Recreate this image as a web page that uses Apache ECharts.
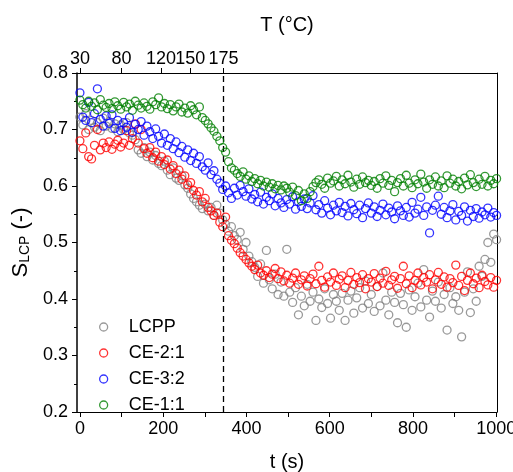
<!DOCTYPE html>
<html><head><meta charset="utf-8">
<script src="https://cdn.jsdelivr.net/npm/echarts@6/dist/echarts.min.js"></script>
<style>html,body{margin:0;padding:0;background:#fff}#c{width:513px;height:472px}</style>
</head><body><div id="c"></div>
<script>
const seriesNames = ['LCPP', 'CE-2:1', 'CE-3:2', 'CE-1:1'];
const seriesColors = ['#808080', '#ff0000', '#0000ff', '#008000'];

const times = [0,7,14,21,28,35,42,49,56,63,
70,77,84,91,98,105,112,119,126,133,
140,147,154,161,168,175,182,189,196,203,
210,217,224,231,238,245,252,259,266,273,
280,287,294,301,308,315,322,329,336,343,
350,357,364,371,378,385,392,399,406,413,
420,427,434,441,448,455,462,469,476,483,
490,497,504,511,518,525,532,539,546,553,
560,567,574,581,588,595,602,609,616,623,
630,637,644,651,658,665,672,679,686,693,
700,707,714,721,728,735,742,749,756,763,
770,777,784,791,798,805,812,819,826,833,
840,847,854,861,868,875,882,889,896,903,
910,917,924,931,938,945,952,959,966,973,
980,987,994,1001];

const lcpp = [0.722,0.708,0.728,0.700,0.716,0.704,0.712,0.698,0.720,0.706,
0.714,0.702,0.710,0.696,0.708,0.700,0.712,0.694,0.690,0.682,
0.664,0.658,0.668,0.652,0.660,0.646,0.654,0.640,0.636,0.644,
0.628,0.620,0.632,0.614,0.610,0.618,0.602,0.596,0.586,0.578,
0.572,0.566,0.560,0.568,0.556,0.562,0.548,0.566,0.552,0.540,
0.532,0.520,0.528,0.512,0.505,0.518,0.488,0.500,0.476,0.466,
0.456,0.440,0.462,0.428,0.486,0.434,0.418,0.444,0.408,0.430,
0.405,0.488,0.412,0.394,0.420,0.372,0.405,0.388,0.426,0.396,
0.412,0.362,0.400,0.385,0.418,0.392,0.366,0.408,0.396,0.380,
0.410,0.362,0.398,0.414,0.375,0.402,0.420,0.384,0.432,0.392,
0.408,0.378,0.422,0.388,0.446,0.398,0.372,0.412,0.394,0.358,
0.410,0.390,0.350,0.416,0.380,0.404,0.428,0.386,0.452,0.398,
0.368,0.414,0.396,0.430,0.384,0.408,0.345,0.420,0.392,0.404,
0.380,0.333,0.412,0.448,0.376,0.418,0.396,0.458,0.440,0.470,
0.500,0.465,0.515,0.505];

const ce21 = [0.680,0.666,0.694,0.652,0.648,0.672,0.700,0.664,0.676,0.668,
0.678,0.665,0.674,0.681,0.669,0.676,0.698,0.672,0.684,0.710,
0.676,0.700,0.666,0.658,0.668,0.650,0.660,0.644,0.652,0.638,
0.646,0.630,0.636,0.622,0.628,0.612,0.618,0.602,0.606,0.592,
0.584,0.590,0.572,0.578,0.562,0.556,0.548,0.552,0.536,0.528,
0.545,0.512,0.504,0.498,0.490,0.482,0.476,0.470,0.464,0.458,
0.452,0.460,0.446,0.442,0.450,0.438,0.444,0.454,0.436,0.448,
0.432,0.442,0.428,0.437,0.446,0.426,0.434,0.441,0.423,0.436,
0.444,0.427,0.458,0.433,0.421,0.439,0.430,0.446,0.424,0.435,
0.441,0.420,0.433,0.447,0.426,0.438,0.429,0.443,0.418,0.436,
0.430,0.445,0.422,0.437,0.428,0.449,0.424,0.434,0.440,0.419,
0.436,0.458,0.427,0.441,0.420,0.433,0.446,0.425,0.438,0.430,
0.443,0.418,0.434,0.447,0.426,0.439,0.421,0.436,0.429,0.460,
0.424,0.440,0.415,0.433,0.446,0.427,0.437,0.420,0.442,0.431,
0.425,0.438,0.421,0.433];

const ce32 = [0.765,0.722,0.716,0.748,0.712,0.728,0.772,0.718,0.706,0.724,
0.711,0.726,0.702,0.716,0.698,0.712,0.704,0.721,0.695,0.709,
0.700,0.714,0.690,0.706,0.696,0.684,0.701,0.688,0.676,0.692,
0.672,0.684,0.666,0.678,0.659,0.670,0.651,0.664,0.645,0.658,
0.640,0.652,0.634,0.628,0.641,0.620,0.627,0.612,0.605,0.594,
0.600,0.588,0.578,0.596,0.584,0.601,0.590,0.582,0.595,0.577,
0.585,0.572,0.589,0.568,0.580,0.574,0.586,0.565,0.578,0.570,
0.562,0.576,0.568,0.581,0.559,0.572,0.564,0.577,0.560,0.570,
0.583,0.558,0.567,0.552,0.574,0.561,0.549,0.566,0.556,0.571,
0.553,0.564,0.547,0.569,0.558,0.551,0.566,0.544,0.560,0.570,
0.552,0.563,0.546,0.557,0.568,0.549,0.561,0.554,0.542,0.565,
0.556,0.548,0.562,0.545,0.571,0.552,0.559,0.580,0.548,0.563,
0.517,0.557,0.566,0.582,0.550,0.562,0.544,0.556,0.567,0.540,
0.555,0.548,0.563,0.538,0.557,0.546,0.560,0.543,0.554,0.549,
0.561,0.545,0.553,0.548];

const ce11 = [0.752,0.744,0.738,0.750,0.741,0.747,0.735,0.753,0.743,0.739,
0.746,0.737,0.749,0.742,0.736,0.748,0.740,0.745,0.734,0.750,
0.743,0.738,0.747,0.741,0.736,0.749,0.744,0.756,0.740,0.746,
0.737,0.744,0.733,0.740,0.745,0.731,0.738,0.729,0.742,0.735,
0.726,0.740,0.721,0.716,0.710,0.703,0.697,0.688,0.680,0.668,
0.660,0.643,0.632,0.628,0.622,0.617,0.625,0.612,0.618,0.608,
0.613,0.604,0.610,0.600,0.607,0.598,0.604,0.595,0.601,0.593,
0.600,0.596,0.589,0.598,0.583,0.592,0.574,0.586,0.578,0.590,
0.599,0.606,0.611,0.603,0.596,0.614,0.605,0.609,0.617,0.600,
0.611,0.604,0.619,0.607,0.598,0.612,0.603,0.616,0.606,0.610,
0.601,0.608,0.596,0.613,0.605,0.618,0.601,0.610,0.590,0.606,
0.613,0.600,0.619,0.605,0.597,0.611,0.604,0.621,0.607,0.596,
0.611,0.603,0.616,0.600,0.609,0.597,0.618,0.605,0.612,0.600,
0.608,0.595,0.614,0.602,0.620,0.606,0.599,0.612,0.603,0.617,
0.600,0.610,0.604,0.613];

const xMajorTicks = [0,200,400,600,800,1000];
const xAllTicks = [0,100,200,300,400,500,600,700,800,900,1000];
const tempTickTimes = [0,100,195,265,345];
const tempTickLabels = ['30','80','120','150','175'];
const dashedLineTime = 345;

const FONT = 'Liberation Sans, Arial, sans-serif';
const allValues = [lcpp, ce21, ce32, ce11];

const chart = echarts.init(document.getElementById('c'), null, {renderer:'canvas'});
const X_MIN = -7, X_MAX = 1002;

const series = seriesNames.map((name, k) => ({
  name, type:'scatter', xAxisIndex:0, yAxisIndex:0,
  symbol:'circle', symbolSize:8,
  itemStyle:{color:'rgba(0,0,0,0)', borderColor:seriesColors[k], borderWidth:1.3},
  emphasis:{disabled:true},
  data: times.map((t,i)=>[t, allValues[k][i]]),
  markLine: k===0 ? {silent:true, symbol:'none', label:{show:false},
    lineStyle:{color:'#000', type:[6,4], width:1.3},
    data:[{xAxis:dashedLineTime}]} : undefined,
  z: 3+k
}));

chart.setOption({
  animation:false,
  grid:{left:77, right:16, top:73, bottom:60, containLabel:false, outerBoundsMode:'none'},
  legend:{
    data: seriesNames.map((n,k)=>({name:n, itemStyle:{color:'rgba(0,0,0,0)', borderColor:seriesColors[k], borderWidth:1.3}})),
    orient:'vertical', left:94, top:312, itemWidth:8, itemHeight:8, itemGap:6,
    icon:'circle',
    textStyle:{fontSize:18, fontFamily:FONT, color:'#000', lineHeight:20, padding:[0,0,0,16]}
  },
  xAxis:[
    {type:'value', position:'bottom', min:X_MIN, max:X_MAX,
     axisLine:{show:true, onZero:false, lineStyle:{color:'#000', width:1}},
     axisTick:{show:true, inside:false, length:5, customValues:xAllTicks, lineStyle:{color:'#000'}},
     axisLabel:{customValues:xMajorTicks, fontSize:18, fontFamily:FONT, color:'#000', margin:8,
       formatter:(v)=>String(v)},
     splitLine:{show:false},
     name:'t (s)', nameLocation:'middle', nameGap:40,
     nameTextStyle:{fontSize:20, fontFamily:FONT, color:'#000'}},
    {type:'value', position:'top', min:X_MIN, max:X_MAX,
     axisLine:{show:true, onZero:false, lineStyle:{color:'#000', width:1}},
     axisTick:{show:true, inside:false, length:5, customValues:tempTickTimes, lineStyle:{color:'#000'}},
     axisLabel:{customValues:tempTickTimes, fontSize:18, fontFamily:FONT, color:'#000', margin:5,
       formatter:(v)=>{const i=tempTickTimes.indexOf(v); return i>=0?tempTickLabels[i]:'';}},
     splitLine:{show:false},
     name:'T (°C)', nameLocation:'middle', nameGap:38,
     nameTextStyle:{fontSize:20, fontFamily:FONT, color:'#000'}}
  ],
  yAxis:[
    {type:'value', position:'left', min:0.2, max:0.8, interval:0.1,
     axisLine:{show:true, onZero:false, lineStyle:{color:'#000', width:1.5}},
     axisTick:{show:true, inside:false, length:5, lineStyle:{color:'#000'}},
     minorTick:{show:true, splitNumber:2, length:3, lineStyle:{color:'#000'}},
     axisLabel:{fontSize:18, fontFamily:FONT, color:'#000', margin:9, formatter:(v)=>v.toFixed(1)},
     splitLine:{show:false},
     name:'S{sub|LCP} (-)', nameLocation:'middle', nameGap:44, nameRotate:90,
     nameTextStyle:{fontSize:22, fontFamily:FONT, color:'#000',
       rich:{sub:{fontSize:14, fontFamily:FONT, color:'#000', padding:[9,0,0,0]}}}},
    {type:'value', position:'right', min:0.2, max:0.8,
     axisLine:{show:true, onZero:false, lineStyle:{color:'#000', width:1}},
     axisTick:{show:false}, axisLabel:{show:false}, splitLine:{show:false}}
  ],
  series
});
</script></body></html>
